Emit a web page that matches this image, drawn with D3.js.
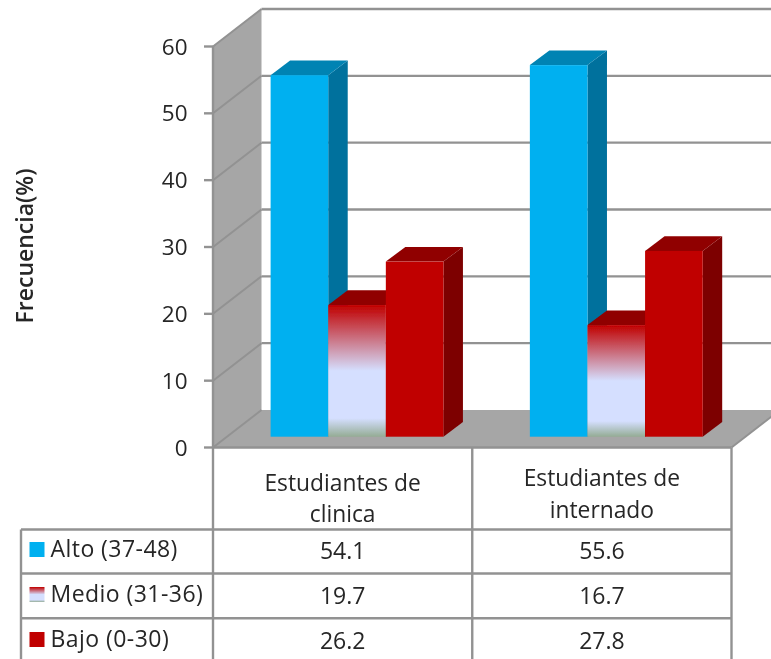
<!DOCTYPE html>
<html><head><meta charset="utf-8">
<script src="https://cdn.jsdelivr.net/npm/d3@7/dist/d3.min.js"></script>
<style>html,body{margin:0;padding:0;background:#fff}svg{display:block}text{font-family:"Open Sans",sans-serif;fill:#262626}</style>
</head><body><svg id="c" width="771" height="659"></svg>
<script>
const categories = ["Estudiantes de clinica", "Estudiantes de internado"];
const categoryLines = [["Estudiantes de", "clinica"], ["Estudiantes de", "internado"]];
const seriesNames = ["Alto (37-48)", "Medio (31-36)", "Bajo (0-30)"];
const alto = [54.1, 55.6];
const medio = [19.7, 16.7];
const bajo = [26.2, 27.8];
const yTicks = [0, 10, 20, 30, 40, 50, 60];
const seriesValues = [alto, medio, bajo];

const svg = d3.select("#c");
const defs = svg.append("defs");
const f = defs.append("filter").attr("id","soft").attr("x","-5%").attr("y","-5%").attr("width","110%").attr("height","110%");
f.append("feGaussianBlur").attr("stdDeviation",0.5);
const g = defs.append("linearGradient").attr("id","medio").attr("x1",0).attr("y1",0).attr("x2",0).attr("y2",1);
[[0,"#c00000"],[0.5,"#d5dfff"],[0.86,"#d5dfff"],[1,"#94ac94"]].forEach(s=>g.append("stop").attr("offset",s[0]).attr("stop-color",s[1]));

const root = svg.append("g").attr("filter","url(#soft)");
const line="#929292", wall="#a6a6a6";
const x0=213, x1=731.5, yTop=46.5, yBot=447.5, dx=48.5, dy=-37.5;
const y = d3.scaleLinear().domain([0,60]).range([yBot,yTop]);
const cat = d3.scaleBand().domain(categories).range([x0,x1]);
const ser = d3.scaleBand().domain(seriesNames).range([cat.bandwidth()*0.2222,cat.bandwidth()*0.8889]);
const poly=(pts,fill)=>root.append("polygon").attr("points",pts.map(p=>p.join(",")).join(" ")).attr("fill",fill);
const seg=(a,b,c,d,w)=>root.append("line").attr("x1",a).attr("y1",b).attr("x2",c).attr("y2",d).attr("stroke",line).attr("stroke-width",w||2.4);

// walls
poly([[x0,yBot],[x0+dx,yBot+dy],[x0+dx,yTop+dy],[x0,yTop]],wall);
poly([[x0,yBot],[x0+dx,yBot+dy],[x1+dx,yBot+dy],[x1,yBot]],wall);
// gridlines
yTicks.forEach(t=>{
  const v=y(t);
  seg(x0-9,v,x0,v);
  seg(x0,v,x0+dx,v+dy,2);
  if(t>0) seg(x0+dx,v+dy,x1+dx,v+dy);
});
seg(x0,yBot,x1,yBot);
seg(x0,yTop,x0,yBot);
seg(x1,yBot,x1+dx,yBot+dy,2);

// bars
const barDepthX=19.5, barDepthY=-14.7, barOffY=-10.8;
const colors=[{f:"#00b0f0",t:"#0083b3",s:"#00719d"},{f:"url(#medio)",t:"#900000",s:"#7d0000"},{f:"#c00000",t:"#900000",s:"#7d0000"}];
categories.forEach((c,ci)=>{
  seriesNames.forEach((s,si)=>{
    const v=seriesValues[si][ci];
    const xl=cat(c)+ser(s), xr=xl+ser.bandwidth();
    const yt=y(v)+barOffY, yb=y(0)+barOffY;
    const col=colors[si];
    poly([[xr,yt],[xr+barDepthX,yt+barDepthY],[xr+barDepthX,yb+barDepthY],[xr,yb]],col.s);
    poly([[xl,yt],[xl+barDepthX,yt+barDepthY],[xr+barDepthX,yt+barDepthY],[xr,yt]],col.t);
    root.append("rect").attr("x",xl).attr("y",yt).attr("width",xr-xl).attr("height",yb-yt).attr("fill",col.f);
  });
});

// y axis labels
yTicks.forEach(t=>root.append("text").attr("x",187.5).attr("y",y(t)+8).attr("text-anchor","end").style("font-size","22.5px").text(t));
root.append("text").attr("transform","translate(33,246) rotate(-90)").attr("text-anchor","middle").style("font-size","23px").style("font-weight","600").text("Frecuencia(%)");

// data table
const rowY=[529.5,573.5,618.3];
const tl=21, tb=659;
seg(x0,yBot,x0,tb); seg(cat(categories[1]),yBot,cat(categories[1]),tb); seg(x1,yBot,x1,tb);
rowY.forEach(r=>seg(tl,r,x1,r));
seg(tl,rowY[0],tl,tb);
const catBase=[[490.5,521.5],[486,518]], valBase=[559,604,649], legBase=[557,602,647];
categories.forEach((c,i)=>{
  const cx=cat(c)+cat.bandwidth()/2;
  categoryLines[i].forEach((l,j)=>root.append("text").attr("x",cx).attr("y",catBase[i][j]).attr("text-anchor","middle").style("font-size","22.8px").text(l));
  seriesNames.forEach((s,si)=>root.append("text").attr("x",cx).attr("y",valBase[si]).attr("text-anchor","middle").style("font-size","23px").text(seriesValues[si][i]));
});
seriesNames.forEach((s,si)=>{
  root.append("rect").attr("x",29.5).attr("y",legBase[si]-15).attr("width",15).attr("height",15).attr("fill",colors[si].f);
  root.append("text").attr("x",50.5).attr("y",legBase[si]).style("font-size","23px").style("letter-spacing","0.45px").text(s);
});
</script></body></html>
